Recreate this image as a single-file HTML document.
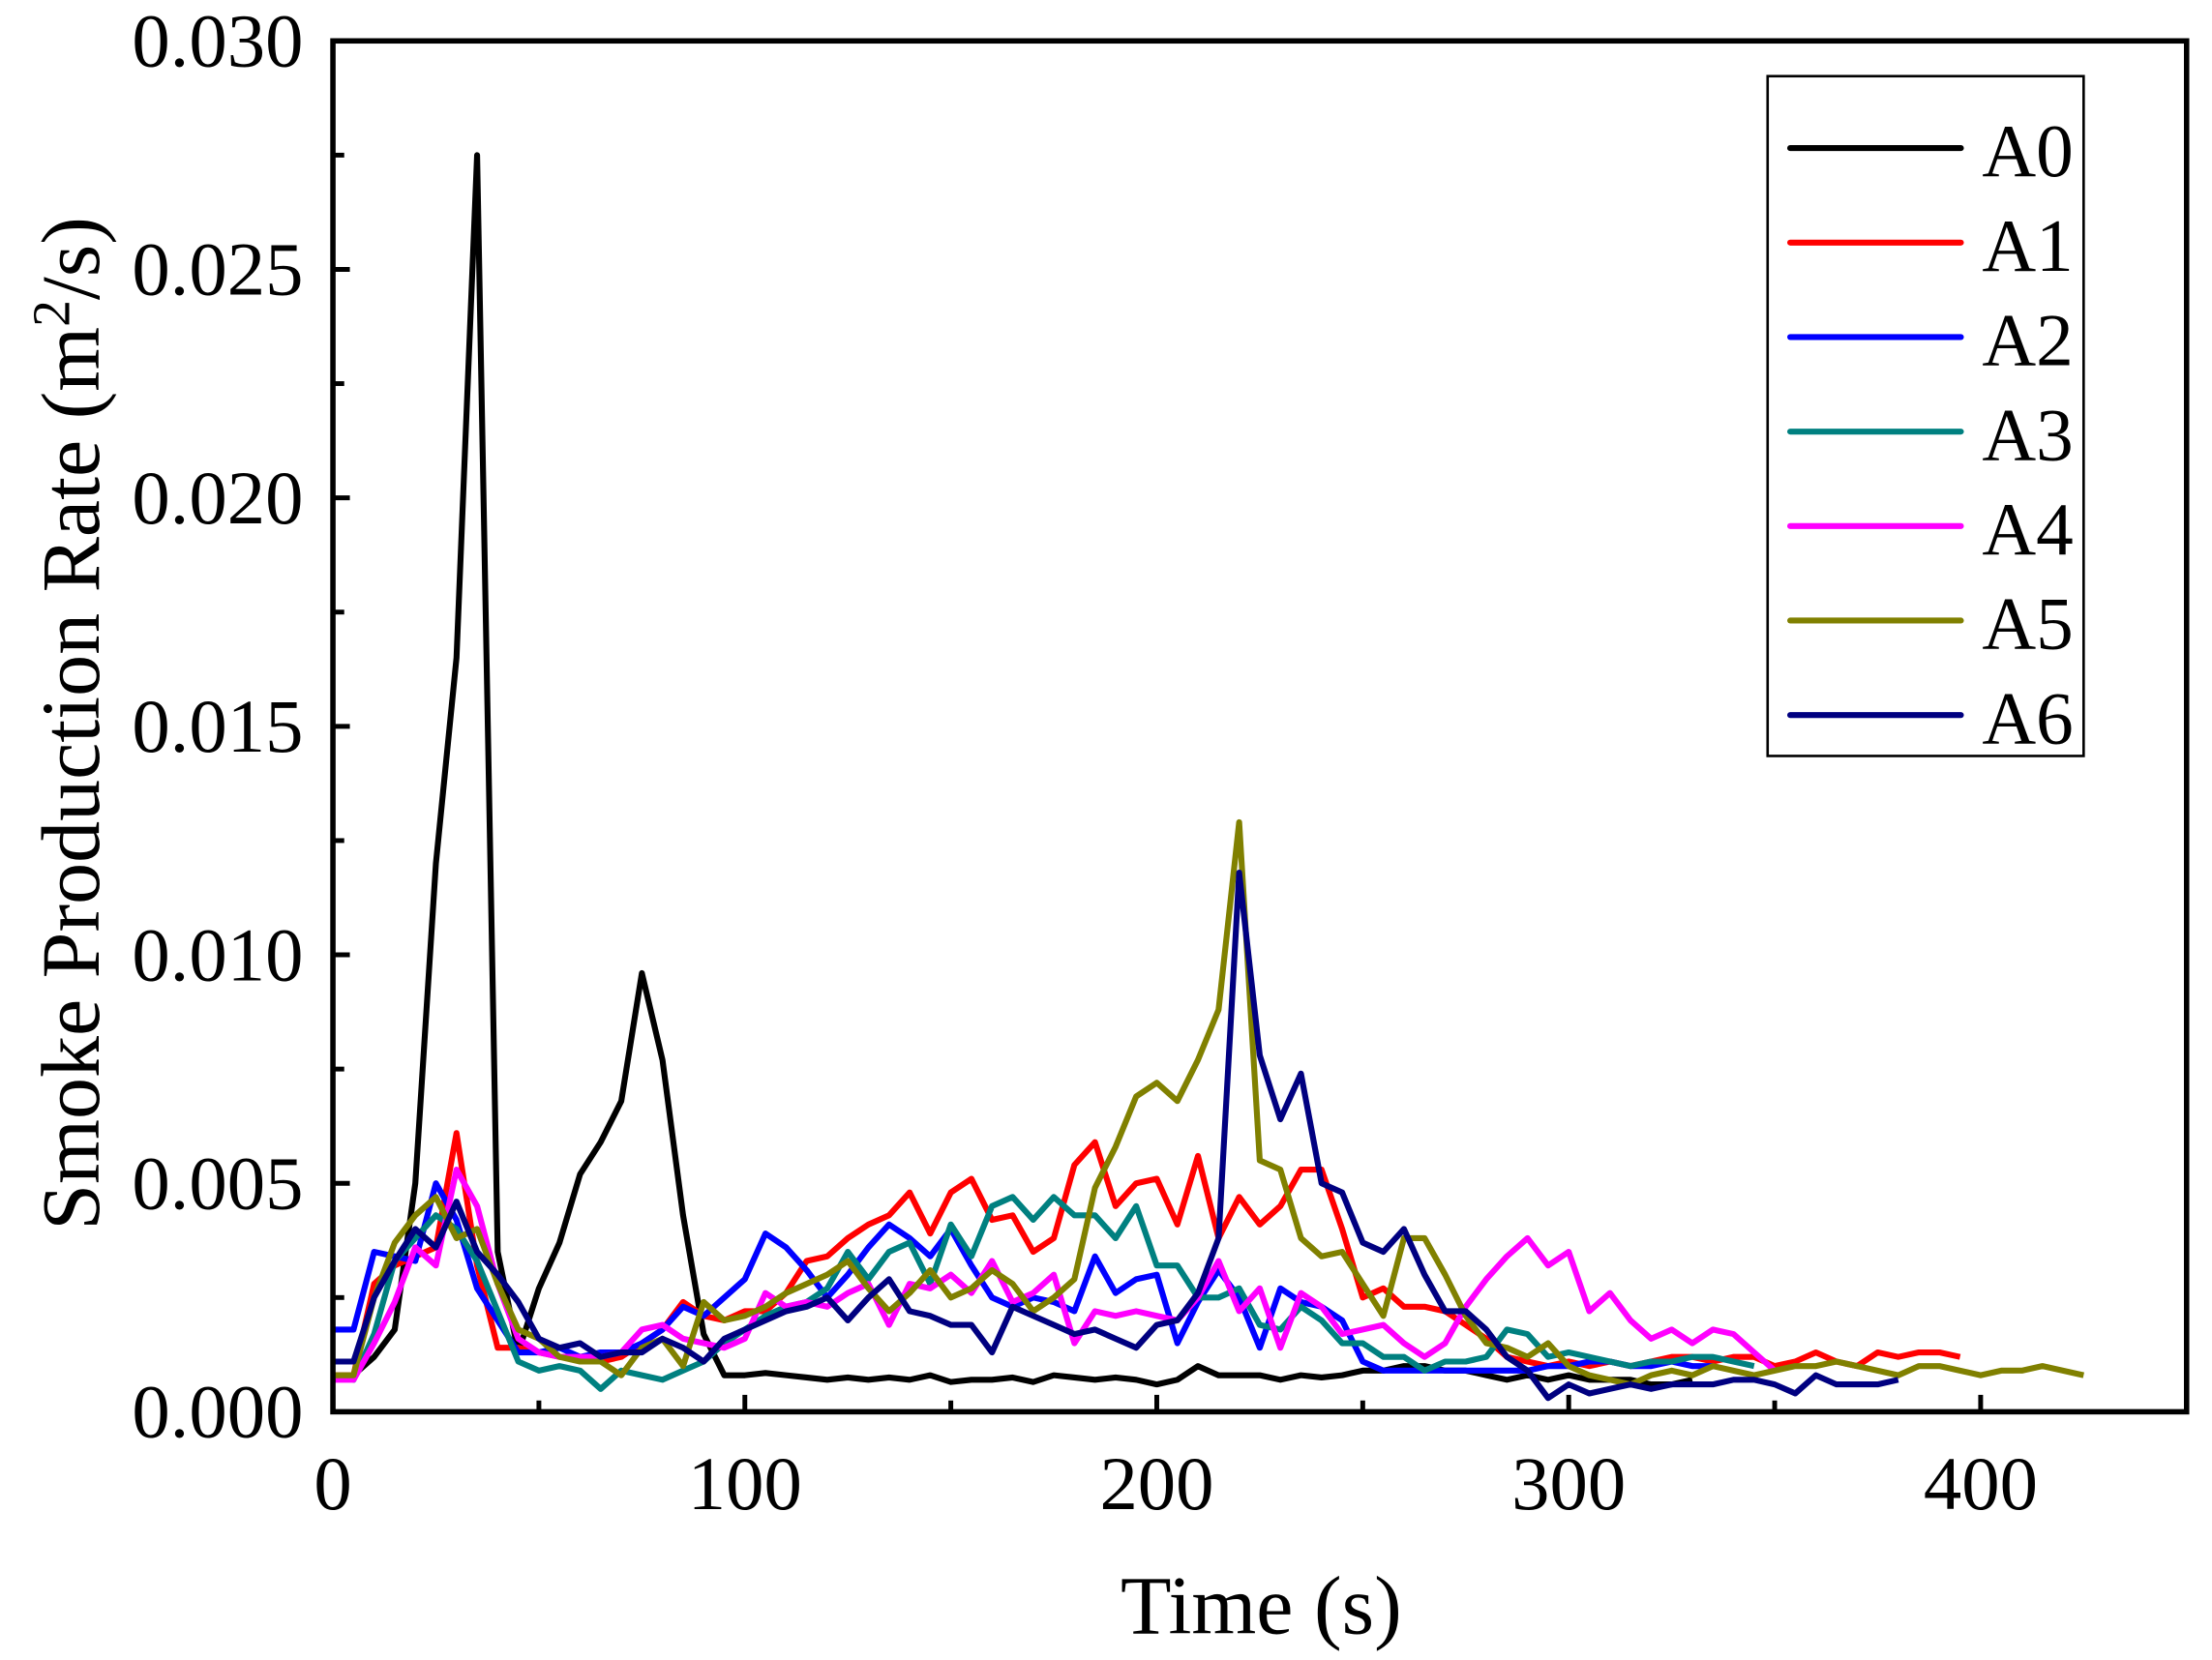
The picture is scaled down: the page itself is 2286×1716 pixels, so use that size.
<!DOCTYPE html>
<html><head><meta charset="utf-8"><style>html,body{margin:0;padding:0;background:#fff}svg{display:block}</style></head>
<body>
<svg id="c" width="2286" height="1716" viewBox="0 0 1568 1177" preserveAspectRatio="none" xmlns="http://www.w3.org/2000/svg" font-family="'Liberation Serif', serif">
<rect width="1568" height="1177" fill="#fff"/>
<g id="series" fill="none" stroke-width="4.2" stroke-linejoin="round"></g>
<rect x="236" y="29" width="1314" height="972" fill="none" stroke="#000" stroke-width="3.8"/>
<g id="ticks" stroke="#000" stroke-width="3.4"></g>
<g font-size="54" fill="#000">
<text x="236" y="1070" text-anchor="middle">0</text>
<text x="528" y="1070" text-anchor="middle">100</text>
<text x="820" y="1070" text-anchor="middle">200</text>
<text x="1112" y="1070" text-anchor="middle">300</text>
<text x="1404" y="1070" text-anchor="middle">400</text>
<text x="215" y="1019" text-anchor="end">0.000</text>
<text x="215" y="857" text-anchor="end">0.005</text>
<text x="215" y="695" text-anchor="end">0.010</text>
<text x="215" y="533" text-anchor="end">0.015</text>
<text x="215" y="371" text-anchor="end">0.020</text>
<text x="215" y="209" text-anchor="end">0.025</text>
<text x="215" y="47" text-anchor="end">0.030</text>
</g>
<text x="894" y="1158" font-size="59" text-anchor="middle">Time (s)</text>
<text transform="translate(70,513) rotate(-90)" font-size="59" text-anchor="middle">Smoke Production Rate (m<tspan font-size="38" dy="-21">2</tspan><tspan dy="21">/s)</tspan></text>
<rect x="1253" y="54" width="224" height="482" fill="#fff" stroke="#000" stroke-width="1.8"/>
<g id="legend" stroke-width="4.2" stroke-linecap="round"></g>
</svg>
<script>
var L=236,B=1001;
function X(t){return L+t*2.92;}
function Y(v){return B-v*32400;}
function seq(start,step,arr){return arr.map(function(v,i){return [start+i*step,v];});}
var S=[
["#000",seq(0,5,[.0008,.0008,.0012,.0018,.005,.012,.0165,.0275,.0035,.0013,.0027,.0037,.0052,.0059,.0068,.0096,.0077,.0043,.0017,.0008,.0008,.00085,.0008,.00075,.0007,.00075,.0007,.00075,.0007,.0008,.00065,.0007,.0007,.00075,.00065,.0008,.00075,.0007,.00075,.0007,.0006,.0007,.001,.0008,.0008,.0008,.0007,.0008,.00075,.0008,.0009,.0009,.001,.001,.0009,.0009,.0008,.0007,.0008,.0007,.0008,.0007,.0007,.0007,.0006,.0006,.0007])],
["#f00",seq(0,5,[.0008,.0008,.0028,.0032,.0034,.0036,.0061,.0032,.0014,.0014,.0013,.0012,.0012,.0011,.0012,.0015,.0018,.0024,.0021,.002,.0022,.0022,.0026,.0033,.0034,.0038,.0041,.0043,.0048,.0039,.0048,.0051,.0042,.0043,.0035,.0038,.0054,.0059,.0045,.005,.0051,.0041,.0056,.0038,.0047,.0041,.0045,.0053,.0053,.004,.0025,.0027,.0023,.0023,.0022,.0019,.0016,.0012,.0011,.001,.0011,.001,.0011,.001,.0011,.0012,.0012,.0011,.0012,.0012,.001,.0011,.0013,.0011,.001,.0013,.0012,.0013,.0013,.0012])],
["#00f",seq(0,5,[.0018,.0018,.0035,.0034,.0033,.005,.0042,.0027,.002,.0013,.0013,.0014,.0012,.0013,.0013,.0015,.0018,.0023,.0021,.0025,.0029,.0039,.0036,.0031,.0025,.003,.0036,.0041,.0038,.0034,.004,.0032,.0025,.0023,.0025,.0024,.0022,.0034,.0026,.0029,.003,.0015,.0024,.0031,.0025,.0014,.0027,.0024,.0023,.002,.0011,.0009,.0009,.0009,.0009,.0009,.0009,.0009,.0009,.001,.001,.0011,.0011,.001,.001,.0011,.001,.001])],
["#008080",seq(0,5,[.0008,.0007,.0017,.0033,.0038,.0043,.004,.0033,.0022,.0011,.0009,.001,.0009,.0005,.0009,.0008,.0007,.0009,.0011,.0015,.0018,.0021,.0023,.0024,.0027,.0035,.0029,.0035,.0037,.0028,.0041,.0034,.0045,.0047,.0042,.0047,.0043,.0043,.0038,.0045,.0032,.0032,.0025,.0025,.0027,.0019,.0018,.0023,.002,.0015,.0015,.0012,.0012,.0009,.0011,.0011,.0012,.0018,.0017,.0012,.0013,.0012,.0011,.001,.0011,.0011,.0012,.0012,.0011,.001])],
["#f0f",seq(0,5,[.0007,.0007,.0015,.0024,.0036,.0032,.0053,.0045,.0028,.0016,.0013,.0012,.0012,.0012,.0013,.0018,.0019,.0016,.0015,.0014,.0016,.0026,.0023,.0024,.0023,.0026,.0028,.0019,.0028,.0027,.003,.0026,.0033,.0024,.0026,.003,.0015,.0022,.0021,.0022,.0021,.002,.0025,.0033,.0022,.0027,.0014,.0026,.0023,.0017,.0018,.0019,.0015,.0012,.0015,.0023,.0029,.0034,.0038,.0032,.0035,.0022,.0026,.002,.0016,.0018,.0015,.0018,.0017,.0013,.0009])],
["#808000",seq(0,5,[.0008,.0008,.0025,.0037,.0043,.0047,.0038,.004,.0028,.0018,.0016,.0012,.0011,.0011,.0008,.0014,.0016,.001,.0024,.002,.0021,.0023,.0026,.0028,.003,.0033,.0027,.0022,.0026,.0031,.0025,.0027,.0031,.0028,.0022,.0025,.0029,.0049,.0058,.0069,.0072,.0068,.0077,.0088,.0129,.0055,.0053,.0038,.0034,.0035,.0028,.0021,.0038,.0038,.003,.0021,.0015,.0014,.0012,.0015,.001,.0008,.0007,.0006,.0008,.0009,.0008,.001,.0009,.0008,.0009,.001,.001,.0011,.001,.0009,.0008,.001,.001,.0009,.0008,.0009,.0009,.001,.0009,.0008])],
["#000080",seq(0,5,[.0011,.0011,.0025,.0033,.004,.0036,.0046,.0035,.003,.0024,.0016,.0014,.0015,.0012,.0013,.0013,.0016,.0014,.0011,.0016,.0018,.002,.0022,.0023,.0025,.002,.0025,.0029,.0022,.0021,.0019,.0019,.0013,.0023,.0021,.0019,.0017,.0018,.0016,.0014,.0019,.002,.0026,.0038,.0118,.0078,.0064,.0074,.005,.0048,.0037,.0035,.004,.003,.0022,.0022,.0018,.0012,.0009,.0003,.0006,.0004,.0005,.0006,.0005,.0006,.0006,.0006,.0007,.0007,.0006,.0004,.0008,.0006,.0006,.0006,.0007])]
];
var ns="http://www.w3.org/2000/svg",g=document.getElementById("series");
S.forEach(function(s){var p=document.createElementNS(ns,"polyline");p.setAttribute("stroke",s[0]);p.setAttribute("points",s[1].map(function(q){return X(q[0]).toFixed(1)+","+Y(q[1]).toFixed(1)}).join(" "));g.appendChild(p);});
var t=document.getElementById("ticks"),h="";
for(var i=0;i<=9;i++){var x=X(i*50),len=i%2==0?12:8;h+='<line x1="'+x+'" y1="1001" x2="'+x+'" y2="'+(1001-len)+'"/>';}
for(var j=0;j<=12;j++){var y=1001-j*81,len2=j%2==0?12:8;h+='<line x1="236" y1="'+y+'" x2="'+(236+len2)+'" y2="'+y+'"/>';}
t.innerHTML=h;
var lg=document.getElementById("legend"),lh="",names=["A0","A1","A2","A3","A4","A5","A6"];
for(var k=0;k<7;k++){var yy=105+k*67;lh+='<line x1="1269" y1="'+yy+'" x2="1390" y2="'+yy+'" stroke="'+S[k][0]+'"/><text x="1405" y="'+(yy+20)+'" font-size="53" fill="#000" stroke="none">'+names[k]+'</text>';}
lg.innerHTML=lh;
</script>
</body></html>
